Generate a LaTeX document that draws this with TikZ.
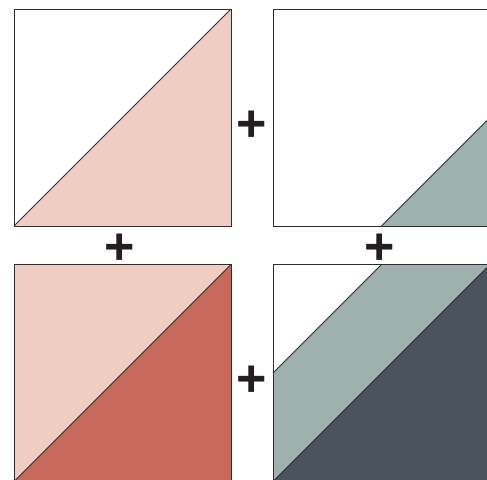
\documentclass[tikz,border=0pt]{standalone}
\usepackage{fontspec}
\newfontfamily\plusfont{Liberation Sans}
\usetikzlibrary{backgrounds}
\definecolor{pinkc}{HTML}{F0CDC2}
\definecolor{redc}{HTML}{C9695C}
\definecolor{tealc}{HTML}{9EB1AE}
\definecolor{darkc}{HTML}{4B535C}
\definecolor{linec}{HTML}{2E2E2E}
\definecolor{plusc}{HTML}{231F20}
\tikzset{
  sq/.style={draw=linec, line width=1pt, minimum size=217pt, inner sep=0pt, outer sep=0pt},
  diag/.style={draw=linec, line width=0.8pt},
  plussign/.style={text=plusc, inner sep=0pt, font=\plusfont\bfseries\fontsize{52}{52}\selectfont}
}
\begin{document}
\begin{tikzpicture}[x=1pt,y=-1pt]
\clip (0,0) rectangle (487,479);
% squares
\node[sq] (tl) at (122.5,117.5) {};
\node[sq] (tr) at (381.5,117.5) {};
\node[sq] (bl) at (122.5,373) {};
\node[sq] (br) at (381.5,373) {};
\begin{pgfonlayer}{background}
  % top-left: pink lower-right half
  \fill[pinkc] (tl.south west) -- (tl.south east) -- (tl.north east) -- cycle;
  \draw[diag] (tl.south west) -- (tl.north east);
  % top-right: teal small triangle
  \fill[tealc] (tr.south) -- (tr.south east) -- (tr.east) -- cycle;
  \draw[diag] (tr.south) -- (tr.east);
  % bottom-left
  \fill[pinkc] (bl.south west) rectangle (bl.north east);
  \fill[redc] (bl.south west) -- (bl.south east) -- (bl.north east) -- cycle;
  \draw[diag] (bl.south west) -- (bl.north east);
  % bottom-right
  \fill[tealc] (br.south west) rectangle (br.north east);
  \fill[white] (br.north west) -- (br.north) -- (br.west) -- cycle;
  \draw[diag] (br.north) -- (br.west);
  \fill[darkc] (br.south west) -- (br.south east) -- (br.north east) -- cycle;
  \draw[diag] (br.south west) -- (br.north east);
\end{pgfonlayer}
% plus signs
\node[plussign] (p1) at (251.8,126) {+};
\node[plussign] (p2) at (119.5,249) {+};
\node[plussign] (p3) at (379.5,249) {+};
\node[plussign] (p4) at (251.8,381) {+};
\end{tikzpicture}
\end{document}
